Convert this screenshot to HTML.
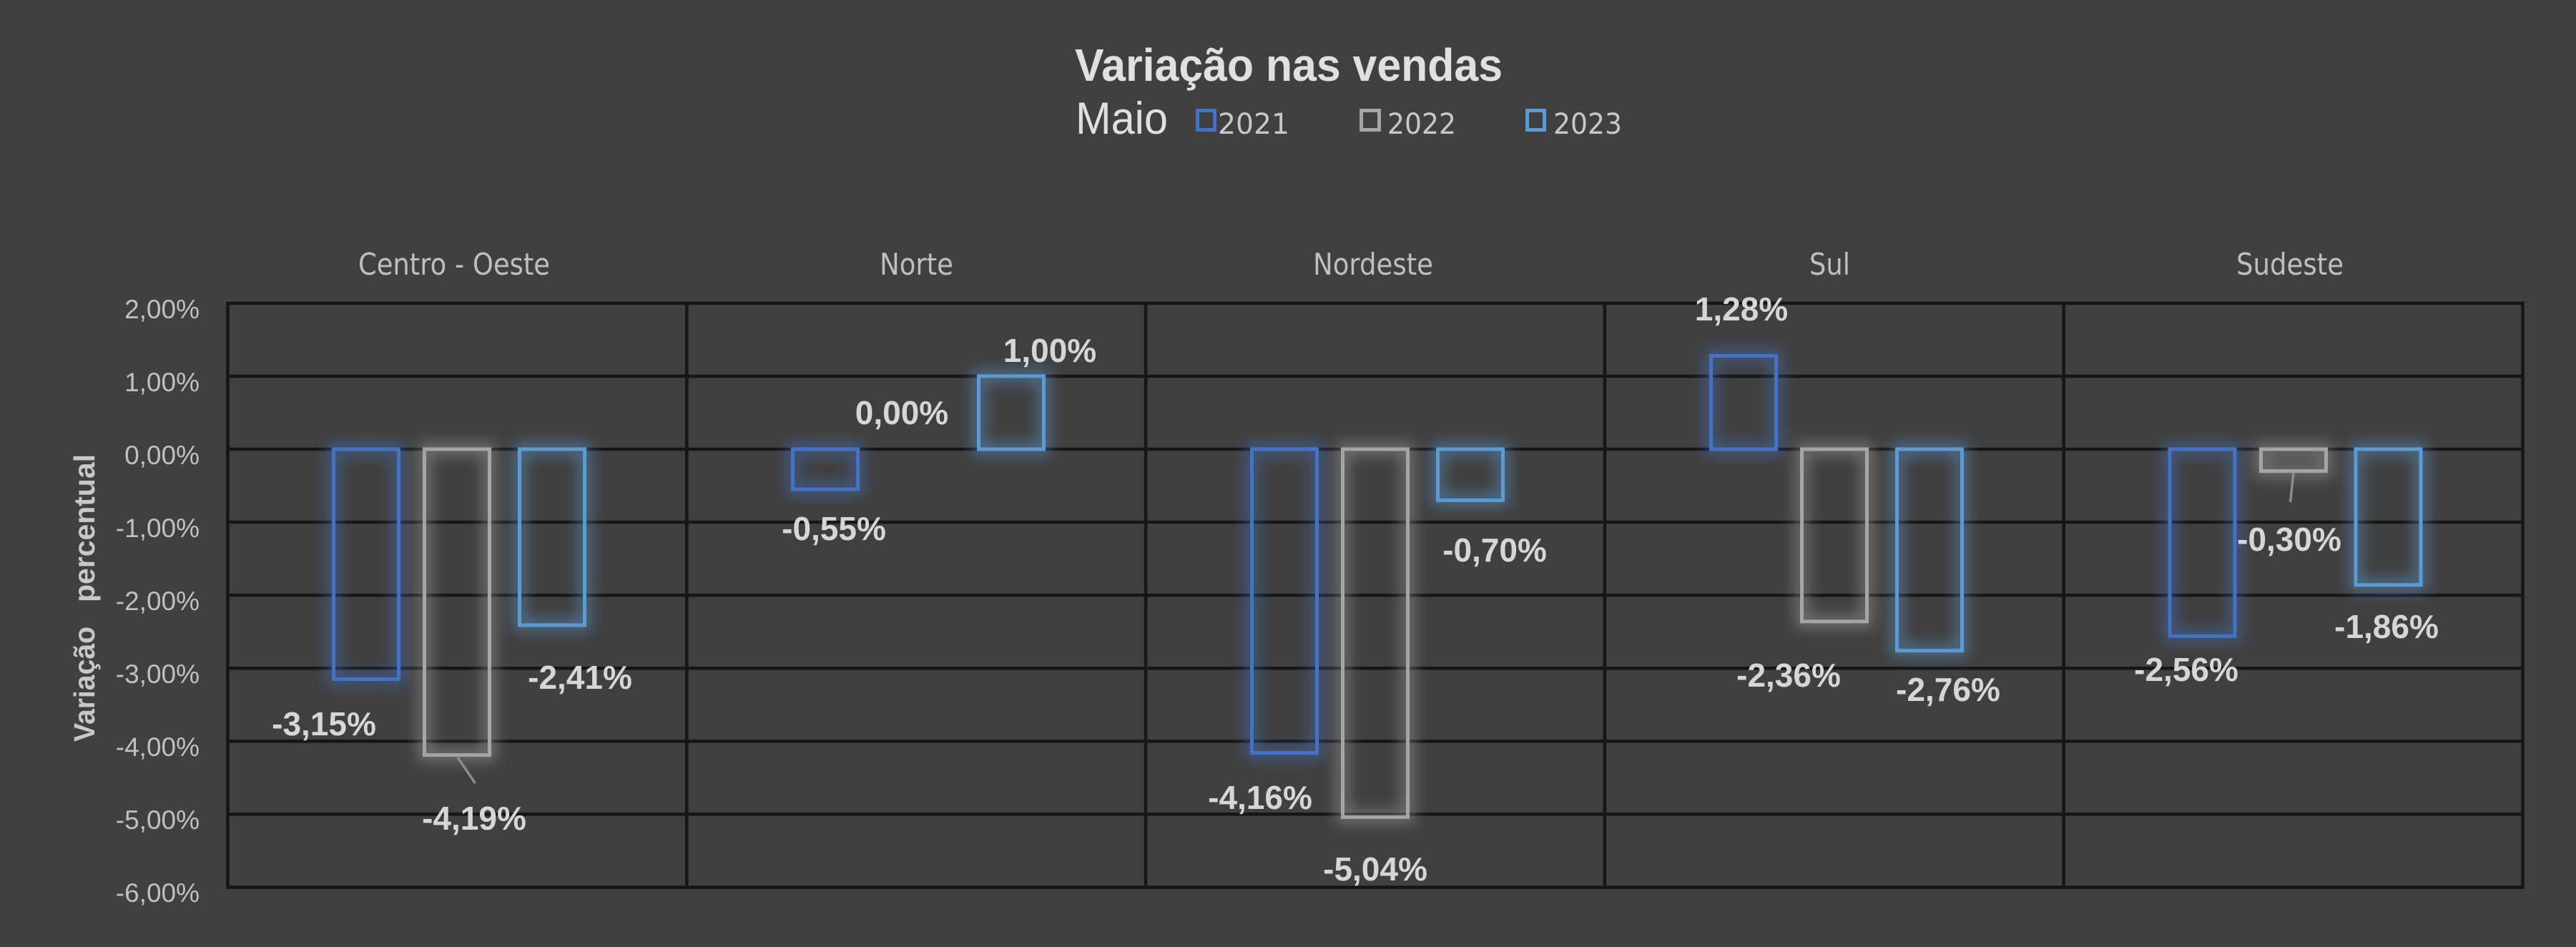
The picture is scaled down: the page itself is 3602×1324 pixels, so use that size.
<!DOCTYPE html>
<html>
<head>
<meta charset="utf-8">
<style>
  html,body{margin:0;padding:0;background:#404040;}
  svg{display:block;}
  .dl{font-family:"Liberation Sans",Arial,sans-serif;font-weight:bold;font-size:46px;fill:#d6d6d6;text-anchor:middle;}
  .tk{font-family:"Liberation Sans",Arial,sans-serif;font-size:37px;fill:#c0c0c0;text-anchor:end;}
  .cat{font-family:"DejaVu Sans",sans-serif;font-size:42px;fill:#bfbfbf;}
  .lg{font-family:"DejaVu Sans",sans-serif;font-size:40px;fill:#c8c8c8;}
</style>
</head>
<body>
<svg width="3602" height="1324" viewBox="0 0 3602 1324" xmlns="http://www.w3.org/2000/svg">
  <defs>
    <filter id="glow" x="-50%" y="-50%" width="200%" height="200%">
      <feGaussianBlur stdDeviation="10"/>
    </filter>
  </defs>
  <rect x="0" y="0" width="3602" height="1324" fill="#404040"/>

  <!-- Title -->
  <text x="1503" y="113" textLength="598" lengthAdjust="spacingAndGlyphs" style="font-family:'Liberation Sans',Arial,sans-serif;font-weight:bold;font-size:64px;fill:#e0e0e0;">Variação nas vendas</text>
  <text x="1504" y="187" textLength="129" lengthAdjust="spacingAndGlyphs" style="font-family:'Liberation Sans',Arial,sans-serif;font-size:63px;fill:#e0e0e0;">Maio</text>

  <!-- Legend -->
  <rect x="1674.5" y="154.5" width="24" height="27" fill="none" stroke="#4472C4" stroke-width="5"/>
  <text class="lg" x="1703" y="187" textLength="100" lengthAdjust="spacingAndGlyphs">2021</text>
  <rect x="1903.5" y="154.5" width="25" height="27" fill="none" stroke="#A5A5A5" stroke-width="5"/>
  <text class="lg" x="1940" y="187" textLength="96" lengthAdjust="spacingAndGlyphs">2022</text>
  <rect x="2135.5" y="154.5" width="24" height="27" fill="none" stroke="#5B9BD5" stroke-width="5"/>
  <text class="lg" x="2172" y="187" textLength="96" lengthAdjust="spacingAndGlyphs">2023</text>

  <!-- Category labels -->
  <text class="cat" x="501" y="384" textLength="268" lengthAdjust="spacingAndGlyphs">Centro - Oeste</text>
  <text class="cat" x="1230" y="384" textLength="103" lengthAdjust="spacingAndGlyphs">Norte</text>
  <text class="cat" x="1836" y="384" textLength="168" lengthAdjust="spacingAndGlyphs">Nordeste</text>
  <text class="cat" x="2530" y="384" textLength="57" lengthAdjust="spacingAndGlyphs">Sul</text>
  <text class="cat" x="3127" y="384" textLength="150" lengthAdjust="spacingAndGlyphs">Sudeste</text>

  <!-- Y axis title -->
  <text transform="translate(132,1037) rotate(-90)" x="0" y="0" textLength="161" lengthAdjust="spacingAndGlyphs" style="font-family:'Liberation Sans',Arial,sans-serif;font-weight:bold;font-size:41px;fill:#c8c8c8;">Variação</text>
  <text transform="translate(132,842) rotate(-90)" x="0" y="0" textLength="207" lengthAdjust="spacingAndGlyphs" style="font-family:'Liberation Sans',Arial,sans-serif;font-weight:bold;font-size:41px;fill:#c8c8c8;">percentual</text>

  <!-- Tick labels -->
  <text class="tk" x="279" y="445">2,00%</text>
  <text class="tk" x="279" y="547">1,00%</text>
  <text class="tk" x="279" y="649">0,00%</text>
  <text class="tk" x="279" y="751">-1,00%</text>
  <text class="tk" x="279" y="853">-2,00%</text>
  <text class="tk" x="279" y="955">-3,00%</text>
  <text class="tk" x="279" y="1057">-4,00%</text>
  <text class="tk" x="279" y="1159">-5,00%</text>
  <text class="tk" x="279" y="1261">-6,00%</text>

  <!-- Grid -->
  <g stroke="#161616" stroke-width="4.5">
    <line x1="316" y1="424" x2="3530" y2="424"/>
    <line x1="316" y1="526" x2="3530" y2="526"/>
    <line x1="316" y1="628" x2="3530" y2="628"/>
    <line x1="316" y1="730" x2="3530" y2="730"/>
    <line x1="316" y1="832.2" x2="3530" y2="832.2"/>
    <line x1="316" y1="934.3" x2="3530" y2="934.3"/>
    <line x1="316" y1="1036.4" x2="3530" y2="1036.4"/>
    <line x1="316" y1="1138.4" x2="3530" y2="1138.4"/>
    <line x1="316" y1="1240.5" x2="3530" y2="1240.5"/>
    <line x1="318.5" y1="422" x2="318.5" y2="1243"/>
    <line x1="960.3" y1="422" x2="960.3" y2="1243"/>
    <line x1="1602.1" y1="422" x2="1602.1" y2="1243"/>
    <line x1="2243.9" y1="422" x2="2243.9" y2="1243"/>
    <line x1="2885.7" y1="422" x2="2885.7" y2="1243"/>
    <line x1="3527.5" y1="422" x2="3527.5" y2="1243"/>
  </g>

  <!-- Glows -->
  <g filter="url(#glow)" fill="none" stroke-width="16" opacity="0.55">
    <rect x="466.5" y="628" width="91" height="321.5" stroke="#4472C4"/>
    <rect x="593.5" y="628" width="91" height="427.6" stroke="#A5A5A5"/>
    <rect x="726.5" y="628" width="91" height="246" stroke="#5B9BD5"/>
    <rect x="1108.5" y="628" width="91" height="56.1" stroke="#4472C4"/>
    <rect x="1368.5" y="525.9" width="91" height="102.1" stroke="#5B9BD5"/>
    <rect x="1750.5" y="628" width="91" height="424.6" stroke="#4472C4"/>
    <rect x="1877.5" y="628" width="91" height="514.4" stroke="#A5A5A5"/>
    <rect x="2010.5" y="628" width="91" height="71.4" stroke="#5B9BD5"/>
    <rect x="2392.5" y="497.4" width="91" height="130.6" stroke="#4472C4"/>
    <rect x="2519.5" y="628" width="91" height="240.9" stroke="#A5A5A5"/>
    <rect x="2652.5" y="628" width="91" height="281.7" stroke="#5B9BD5"/>
    <rect x="3034" y="628" width="91" height="261.3" stroke="#4472C4"/>
    <rect x="3161.5" y="628" width="91" height="30.6" stroke="#A5A5A5"/>
    <rect x="3294" y="628" width="91" height="189.8" stroke="#5B9BD5"/>
  </g>

  <!-- Bars -->
  <g fill="none" stroke-width="5">
    <rect x="466.5" y="628" width="91" height="321.5" stroke="#4472C4"/>
    <rect x="593.5" y="628" width="91" height="427.6" stroke="#A5A5A5"/>
    <rect x="726.5" y="628" width="91" height="246" stroke="#5B9BD5"/>

    <rect x="1108.5" y="628" width="91" height="56.1" stroke="#4472C4"/>
    <rect x="1368.5" y="525.9" width="91" height="102.1" stroke="#5B9BD5"/>

    <rect x="1750.5" y="628" width="91" height="424.6" stroke="#4472C4"/>
    <rect x="1877.5" y="628" width="91" height="514.4" stroke="#A5A5A5"/>
    <rect x="2010.5" y="628" width="91" height="71.4" stroke="#5B9BD5"/>

    <rect x="2392.5" y="497.4" width="91" height="130.6" stroke="#4472C4"/>
    <rect x="2519.5" y="628" width="91" height="240.9" stroke="#A5A5A5"/>
    <rect x="2652.5" y="628" width="91" height="281.7" stroke="#5B9BD5"/>

    <rect x="3034" y="628" width="91" height="261.3" stroke="#4472C4"/>
    <rect x="3161.5" y="628" width="91" height="30.6" stroke="#A5A5A5"/>
    <rect x="3294" y="628" width="91" height="189.8" stroke="#5B9BD5"/>
  </g>

  <!-- Leader lines -->
  <g stroke="#8c8c8c" stroke-width="3.5">
    <line x1="640" y1="1059" x2="664.5" y2="1095"/>
    <line x1="3207" y1="661" x2="3202.5" y2="702"/>
  </g>

  <!-- Data labels -->
  <text class="dl" x="453" y="1028">-3,15%</text>
  <text class="dl" x="663" y="1160">-4,19%</text>
  <text class="dl" x="811" y="963">-2,41%</text>

  <text class="dl" x="1166" y="755">-0,55%</text>
  <text class="dl" x="1261" y="593">0,00%</text>
  <text class="dl" x="1468" y="506">1,00%</text>

  <text class="dl" x="1762" y="1131">-4,16%</text>
  <text class="dl" x="1923" y="1231">-5,04%</text>
  <text class="dl" x="2090" y="785">-0,70%</text>

  <text class="dl" x="2435" y="448">1,28%</text>
  <text class="dl" x="2501" y="960">-2,36%</text>
  <text class="dl" x="2724" y="980">-2,76%</text>

  <text class="dl" x="3057" y="952">-2,56%</text>
  <text class="dl" x="3201" y="770">-0,30%</text>
  <text class="dl" x="3337" y="892">-1,86%</text>
</svg>
</body>
</html>
